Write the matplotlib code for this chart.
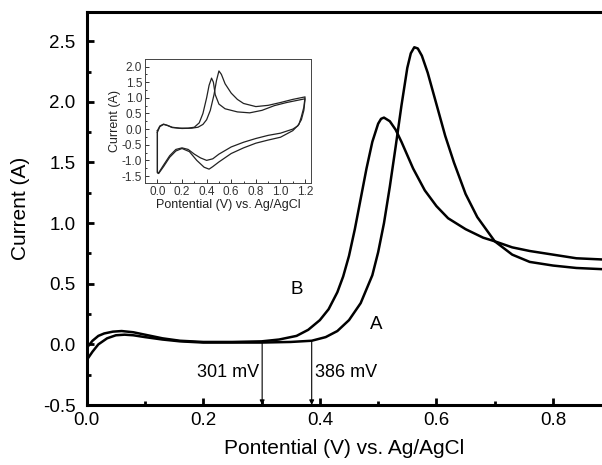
import matplotlib
matplotlib.use('Agg')
import matplotlib.pyplot as plt
from matplotlib.ticker import MultipleLocator

plt.rcParams['font.family'] = ['Liberation Sans', 'DejaVu Sans']

# main plot: linear sweeps A and B
b_v = [0.0, 0.01, 0.02, 0.03, 0.045, 0.06, 0.08, 0.10, 0.13, 0.16, 0.20, 0.25, 0.30, 0.33, 0.36, 0.38,
       0.40, 0.415, 0.43, 0.44, 0.45, 0.46, 0.47, 0.48, 0.49, 0.50, 0.505, 0.51, 0.52, 0.53, 0.54, 0.55,
       0.56, 0.58, 0.60, 0.62, 0.65, 0.68, 0.70, 0.73, 0.76, 0.80, 0.84, 0.885]
b_i = [-0.03, 0.03, 0.07, 0.09, 0.105, 0.11, 0.10, 0.08, 0.05, 0.03, 0.02, 0.02, 0.025, 0.04, 0.07, 0.12,
       0.20, 0.29, 0.43, 0.56, 0.73, 0.95, 1.20, 1.45, 1.67, 1.82, 1.86, 1.87, 1.84, 1.77, 1.67, 1.56,
       1.45, 1.27, 1.14, 1.04, 0.95, 0.88, 0.85, 0.80, 0.77, 0.74, 0.71, 0.70]

a_v = [0.0, 0.01, 0.02, 0.035, 0.05, 0.065, 0.08, 0.10, 0.13, 0.16, 0.20, 0.25, 0.30, 0.35, 0.386,
       0.41, 0.43, 0.45, 0.47, 0.49, 0.50, 0.51, 0.52, 0.53, 0.54, 0.55, 0.556, 0.562, 0.568, 0.575,
       0.585, 0.60, 0.615, 0.63, 0.65, 0.67, 0.70, 0.73, 0.76, 0.80, 0.84, 0.885]
a_i = [-0.13, -0.06, 0.0, 0.05, 0.075, 0.08, 0.075, 0.06, 0.04, 0.025, 0.015, 0.015, 0.015, 0.02, 0.03,
       0.06, 0.11, 0.20, 0.34, 0.57, 0.76, 1.00, 1.30, 1.63, 1.97, 2.28, 2.40, 2.45, 2.44, 2.38,
       2.24, 1.98, 1.72, 1.50, 1.24, 1.05, 0.85, 0.74, 0.68, 0.65, 0.63, 0.62]

onset_v = [0.301, 0.386]
onset_i = [0.02, 0.025]
onset_labels = ['301 mV', '386 mV']

# inset: cyclic voltammograms
cv1_v = [0.0, 0.02, 0.05, 0.08, 0.12, 0.18, 0.25, 0.30, 0.34, 0.37, 0.40, 0.42, 0.44, 0.455, 0.47, 0.50,
         0.55, 0.65, 0.75, 0.85, 0.95, 1.05, 1.15, 1.2,
         1.19, 1.17, 1.14, 1.1, 1.0, 0.9, 0.8, 0.7, 0.6, 0.5, 0.45, 0.40, 0.35, 0.30, 0.25, 0.20, 0.15,
         0.10, 0.05, 0.01, 0.0, 0.0]
cv1_i = [-0.1, 0.08, 0.15, 0.12, 0.06, 0.03, 0.03, 0.06, 0.2, 0.5, 1.0, 1.4, 1.63, 1.5, 1.1, 0.8,
         0.65, 0.55, 0.52, 0.6, 0.75, 0.85, 0.93, 0.97,
         0.6, 0.3, 0.1, 0.0, -0.13, -0.2, -0.3, -0.42, -0.57, -0.8, -0.95, -1.0, -0.92, -0.8, -0.65,
         -0.6, -0.65, -0.85, -1.15, -1.40, -1.38, -0.1]

cv2_v = [0.0, 0.02, 0.05, 0.08, 0.12, 0.2, 0.28, 0.33, 0.37, 0.40, 0.43, 0.46, 0.48, 0.50, 0.52, 0.55,
         0.60, 0.65, 0.70, 0.80, 0.90, 1.0, 1.1, 1.2,
         1.19, 1.17, 1.15, 1.1, 1.0, 0.9, 0.8, 0.7, 0.6, 0.5, 0.45, 0.42, 0.38, 0.32, 0.26, 0.20, 0.15,
         0.10, 0.05, 0.01, 0.0, 0.0]
cv2_i = [-0.05, 0.1, 0.16, 0.12, 0.05, 0.02, 0.03, 0.06, 0.15, 0.3, 0.6, 1.1, 1.55, 1.86, 1.75, 1.45,
         1.15, 0.95, 0.82, 0.72, 0.76, 0.85, 0.95, 1.03,
         0.7, 0.4, 0.15, -0.05, -0.26, -0.35, -0.45, -0.6, -0.78, -1.05, -1.2, -1.28, -1.22, -1.0,
         -0.72, -0.62, -0.7, -0.9, -1.2, -1.42, -1.40, -0.05]

fig = plt.figure(figsize=(6.02, 4.65), dpi=100)
ax = fig.add_axes([0.144, 0.129, 0.856, 0.845])

ax.plot(a_v, a_i, color='black', lw=1.8)
ax.plot(b_v, b_i, color='black', lw=1.8)

for v, i in zip(onset_v, onset_i):
    ax.annotate('', xy=(v, -0.5), xytext=(v, i),
                arrowprops=dict(arrowstyle='-|>', color='black', lw=0.8, mutation_scale=7,
                                shrinkA=0, shrinkB=0))
ax.text(onset_v[0] - 0.006, -0.23, onset_labels[0], ha='right', va='center', fontsize=13)
ax.text(onset_v[1] + 0.006, -0.23, onset_labels[1], ha='left', va='center', fontsize=13)
ax.text(0.36, 0.45, 'B', ha='center', va='center', fontsize=13.5)
ax.text(0.497, 0.16, 'A', ha='center', va='center', fontsize=13.5)

ax.set_xlim(0, 0.884)
ax.set_ylim(-0.5, 2.74)
ax.xaxis.set_major_locator(MultipleLocator(0.2))
ax.xaxis.set_minor_locator(MultipleLocator(0.1))
ax.yaxis.set_major_locator(MultipleLocator(0.5))
ax.yaxis.set_minor_locator(MultipleLocator(0.25))
ax.xaxis.set_major_formatter(lambda x, p: f'{x:.1f}')
ax.yaxis.set_major_formatter(lambda y, p: f'{y:.1f}')
ax.tick_params(which='both', direction='in', top=False, right=False, width=2, labelsize=13.5)
ax.tick_params(which='major', length=5)
ax.tick_params(which='minor', length=3)
ax.tick_params(axis='x', pad=5)
ax.tick_params(axis='y', pad=8)
for side in ['left', 'top', 'bottom']:
    ax.spines[side].set_linewidth(2.2)
ax.spines['right'].set_visible(False)
ax.set_xlabel('Pontential (V) vs. Ag/AgCl', fontsize=15, labelpad=7)
ax.set_ylabel('Current (A)', fontsize=15, labelpad=9)

ins = fig.add_axes([0.241, 0.606, 0.276, 0.267])
ins.plot(cv1_v, cv1_i, color='#222222', lw=0.9)
ins.plot(cv2_v, cv2_i, color='#222222', lw=0.9)
ins.set_xlim(-0.1, 1.25)
ins.set_ylim(-1.73, 2.24)
ins.xaxis.set_major_locator(MultipleLocator(0.2))
ins.xaxis.set_minor_locator(MultipleLocator(0.1))
ins.yaxis.set_major_locator(MultipleLocator(0.5))
ins.yaxis.set_minor_locator(MultipleLocator(0.25))
ins.xaxis.set_major_formatter(lambda x, p: f'{x:.1f}')
ins.yaxis.set_major_formatter(lambda y, p: f'{y:.1f}')
ins.tick_params(which='both', direction='in', labelsize=8.5, pad=2, width=0.7, colors='#333333')
ins.tick_params(which='major', length=3)
ins.tick_params(which='minor', length=1.5)
for s in ins.spines.values():
    s.set_linewidth(0.7)
    s.set_color('#444444')
ins.set_xlabel('Pontential (V) vs. Ag/AgCl', fontsize=9, labelpad=1, color='#222222')
ins.set_ylabel('Current (A)', fontsize=9, labelpad=1, color='#222222')

fig.savefig('out.png', dpi=100)
